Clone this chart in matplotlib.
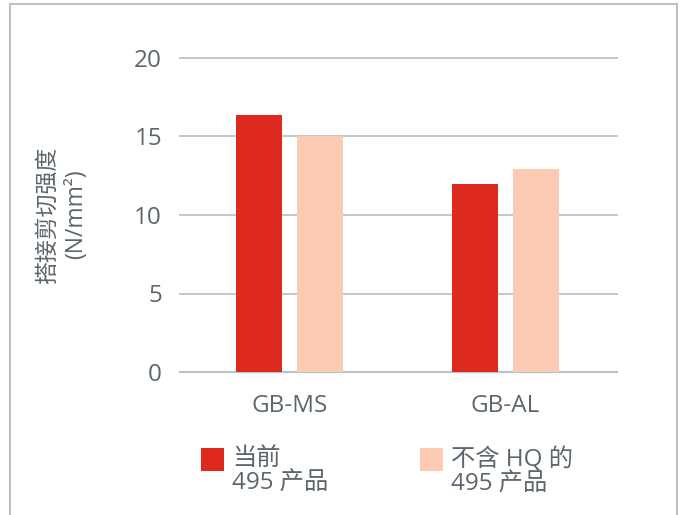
import matplotlib
matplotlib.use("Agg")
import matplotlib.pyplot as plt
from matplotlib.patches import Rectangle

plt.rcParams['font.family'] = ['Open Sans', 'Noto Sans CJK SC', 'DejaVu Sans']

categories = ["GB-MS", "GB-AL"]
series_names = ["当前\n495 产品", "不含 HQ 的\n495 产品"]
current_vals = [16.4, 12.0]
hq_free_vals = [15.0, 12.9]
y_ticks = [0, 5, 10, 15, 20]
y_label = "搭接剪切强度\n(N/mm²)"

RED = "#DE2A1E"
PEACH = "#FDCBB3"
TEXT = "#5B666E"
GRID = "#B8C4CC"

W, H = 683, 515
fig = plt.figure(figsize=(W / 100, H / 100), dpi=100)
fig.patch.set_facecolor("white")

# outer frame
fig.add_artist(Rectangle((10 / W, -0.05), (677 - 10) / W, 1.05 - 4 / H,
                         transform=fig.transFigure, fill=False,
                         edgecolor=GRID, linewidth=1.5))

ax = fig.add_axes([180 / W, 1 - 372 / H, 437 / W, (372 - 58) / H])
ax.set_xlim(-0.507, 1.516)
ax.set_ylim(0, 20)
for s in ax.spines.values():
    s.set_visible(False)

for y in y_ticks:
    ax.axhline(y, color=GRID, linewidth=1.3 if y else 1.6, clip_on=False, zorder=0)

x = range(len(categories))
bw = 0.213
off = 0.141
ax.bar([i - off for i in x], current_vals, width=bw, color=RED, zorder=2)
ax.bar([i + off for i in x], hq_free_vals, width=bw, color=PEACH, zorder=2)

ax.set_yticks(y_ticks)
ax.set_yticklabels([str(t) for t in y_ticks])
ax.set_xticks(list(x))
ax.set_xticklabels(categories)
ax.tick_params(axis="y", length=0, pad=13, labelsize=17.5, labelcolor=TEXT)
ax.tick_params(axis="x", length=0, pad=16, labelsize=17.5, labelcolor=TEXT)

fig.text(62 / W, 1 - 214 / H, y_label, rotation=90, ha="center", va="center",
         fontsize=16.5, color=TEXT, linespacing=1.25)

# legend
for (lx, col, txt) in [(201, RED, series_names[0]), (420, PEACH, series_names[1])]:
    fig.add_artist(Rectangle((lx / W, 1 - 471 / H), 23 / W, 23 / H,
                             transform=fig.transFigure, facecolor=col, edgecolor="none"))
    fig.text((lx + 31) / W, 1 - 447 / H, txt, ha="left", va="top",
             fontsize=17.5, color=TEXT, linespacing=1.05)

fig.savefig("out.png", dpi=100)
